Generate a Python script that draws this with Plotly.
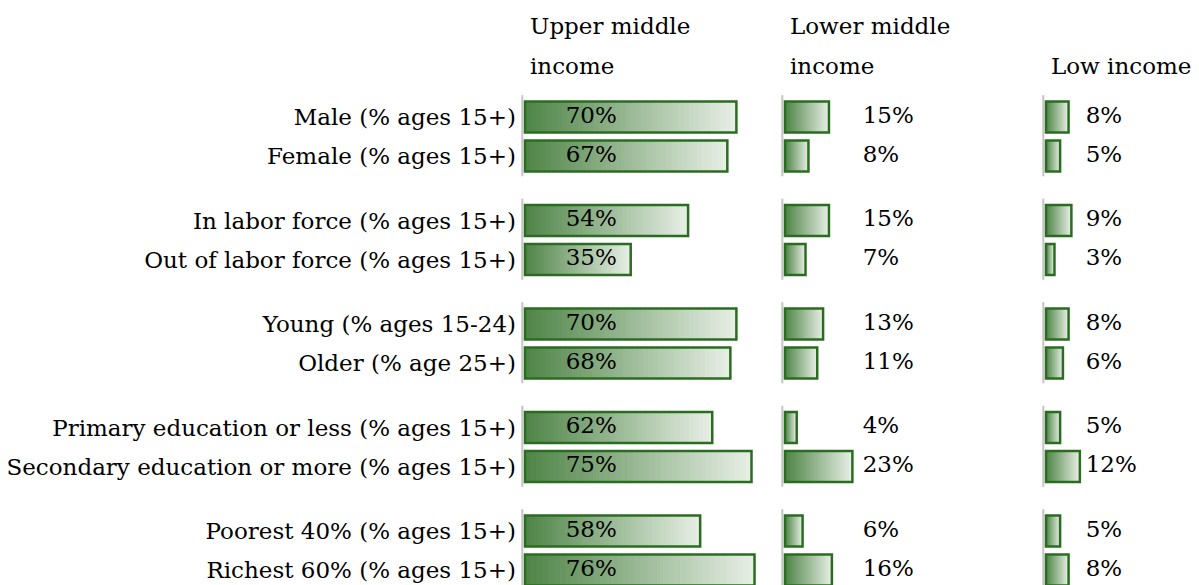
import plotly.graph_objects as go

# ---------------- data ----------------
categories = [
    "Male (% ages 15+)", "Female (% ages 15+)",
    "In labor force (% ages 15+)", "Out of labor force (% ages 15+)",
    "Young (% ages 15-24)", "Older (% age 25+)",
    "Primary education or less (% ages 15+)", "Secondary education or more (% ages 15+)",
    "Poorest 40% (% ages 15+)", "Richest 60% (% ages 15+)",
]
groups = [0, 0, 1, 1, 2, 2, 3, 3, 4, 4]
upper_middle = [70, 67, 54, 35, 70, 68, 62, 75, 58, 76]
lower_middle = [15, 8, 15, 7, 13, 11, 4, 23, 6, 16]
low_income = [8, 5, 9, 3, 8, 6, 5, 12, 5, 8]
panel_titles = [["Upper middle", "income"], ["Lower middle", "income"], ["", "Low income"]]

# ---------------- layout constants (page pixels) ----------------
PAGE_W, PAGE_H = 1199, 585
OFF = 8  # default body margin of the html page
W, H = PAGE_W - OFF, PAGE_H - OFF
FONT = "DejaVu Serif"
FS = 23
GROUP_STEP = 2.654
ROW_PX = 39.0
FIRST_ROW_PX = 117.0 - OFF
x0_px = [p - OFF for p in [525, 785, 1046]]
scale = [3.02, 2.93, 2.82]
right_px = [p - OFF for p in [772, 1032, 1199]]
label_px = [p - OFF for p in [565.7, 862.7, 1085.7]]
header_px = [26 - OFF, 66 - OFF]
DARK = (78, 132, 70)
LIGHT = (232, 239, 230)
OUTLINE = "#2a6d21"
N_SEG = 40
BAR_W = 0.8

ypos = []
for g in sorted(set(groups)):
    idx = [i for i, gg in enumerate(groups) if gg == g]
    for j, i in enumerate(idx):
        ypos.append(g * GROUP_STEP + j)

def col(t):
    c = [round(DARK[k] + (LIGHT[k] - DARK[k]) * t) for k in range(3)]
    return f"rgb({c[0]},{c[1]},{c[2]})"

fig = go.Figure()
series = [upper_middle, lower_middle, low_income]
axnames = ["x", "x2", "x3"]

for p, vals in enumerate(series):
    xa = axnames[p]
    # gradient built from overlapping segments (each runs to bar end)
    for k in range(N_SEG):
        f = k / N_SEG
        fig.add_trace(go.Bar(
            y=ypos, x=[v * (1 - f) for v in vals], base=[v * f for v in vals],
            orientation="h", width=BAR_W, xaxis=xa, yaxis="y",
            marker=dict(color=col((k + 0.5) / N_SEG), line=dict(width=0)),
            hoverinfo="skip", showlegend=False))
    # outline
    fig.add_trace(go.Bar(
        y=ypos, x=vals, base=[0] * len(vals), orientation="h", width=BAR_W,
        xaxis=xa, yaxis="y",
        marker=dict(color="rgba(0,0,0,0)", line=dict(color=OUTLINE, width=2.5)),
        showlegend=False, hoverinfo="skip"))
    # value labels
    lx = (label_px[p] - x0_px[p]) / scale[p]
    fig.add_trace(go.Scatter(
        y=ypos, x=[lx] * len(vals), mode="text", text=[f"{v}%" for v in vals],
        textposition="middle right", xaxis=xa, yaxis="y",
        textfont=dict(family=FONT, size=FS, color="black"),
        showlegend=False, hoverinfo="skip", cliponaxis=False))

# y range so that row 0 sits at FIRST_ROW_PX
y_top = -FIRST_ROW_PX / ROW_PX
y_bot = (H - FIRST_ROW_PX) / ROW_PX

layout = dict(
    width=W, height=H, margin=dict(l=0, r=0, t=0, b=0, autoexpand=False),
    paper_bgcolor="white", plot_bgcolor="white",
    barmode="overlay", showlegend=False,
    font=dict(family=FONT, size=FS, color="black"),
    yaxis=dict(range=[y_bot, y_top], tickvals=ypos, ticktext=categories,
               showgrid=False, zeroline=False, showline=False, ticks="",
               tickfont=dict(family=FONT, size=FS, color="black"),
               anchor="x", domain=[0, 1], ticklabelstandoff=2,
               automargin=False, fixedrange=True),
)
shapes = []
annotations = []
for p in range(3):
    left_px = x0_px[p] - 6
    dom = [left_px / W, min(right_px[p], W) / W]
    rng = [-6 / scale[p], (min(right_px[p], W) - x0_px[p]) / scale[p]]
    key = "xaxis" if p == 0 else f"xaxis{p+1}"
    layout[key] = dict(domain=dom, range=rng, showgrid=False, zeroline=False,
                       showline=False, showticklabels=False, ticks="",
                       anchor="y", fixedrange=True, automargin=False)
    # grey axis line segments per group
    gx = -2.7 / scale[p]
    for g in sorted(set(groups)):
        gy = [ypos[i] for i, gg in enumerate(groups) if gg == g]
        shapes.append(dict(type="line", xref=axnames[p], yref="y",
                           x0=gx, x1=gx, y0=min(gy) - 0.56, y1=max(gy) + 0.52,
                           line=dict(color="#c4c4c4", width=2), layer="below"))
    # headers
    tx = 3 / scale[p]
    for txt, ypx in zip(panel_titles[p], header_px):
        if not txt:
            continue
        annotations.append(dict(text=txt, xref=axnames[p], yref="y", x=tx,
                                y=(ypx - FIRST_ROW_PX) / ROW_PX, xanchor="left",
                                yanchor="middle", showarrow=False,
                                font=dict(family=FONT, size=FS, color="black")))
layout["shapes"] = shapes
layout["annotations"] = annotations
fig.update_layout(**layout)
fig.write_html("out.html")
